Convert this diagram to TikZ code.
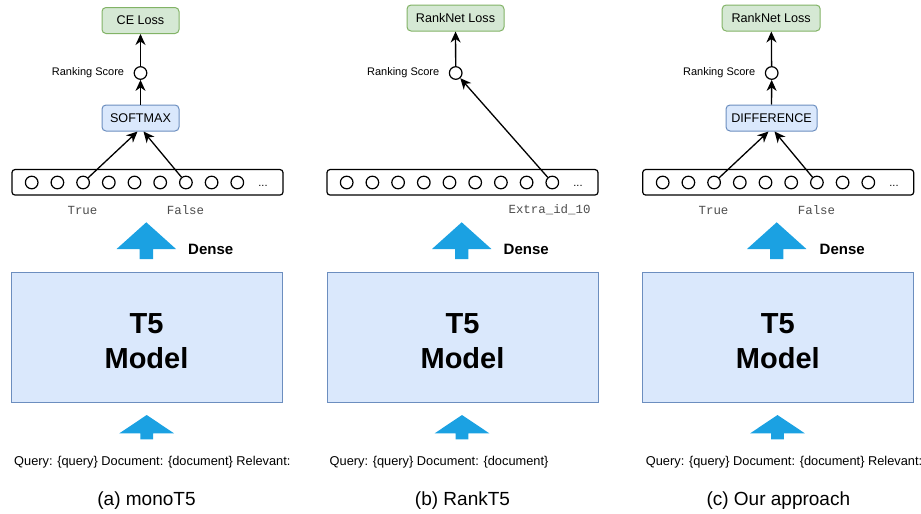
\documentclass[tikz,border=0pt]{standalone}
\usepackage{fontspec}
\setmainfont{Liberation Sans}
\setmonofont{Liberation Mono}
\usepackage{xcolor}
\usetikzlibrary{arrows.meta,positioning,calc}

\definecolor{boxblue}{HTML}{DAE8FC}
\definecolor{lineblue}{HTML}{6C8EBF}
\definecolor{boxgreen}{HTML}{D5E8D4}
\definecolor{linegreen}{HTML}{82B366}
\definecolor{arrowblue}{HTML}{1BA1E2}

\begin{document}
\begin{tikzpicture}[x=1pt,y=-1pt]
	\tikzstyle{every node} = [font=\fontsize{11}{13}\selectfont]
	\tikzstyle{model} = [draw=lineblue, fill=boxblue, line width=1pt, minimum width=271pt, minimum height=130pt]
	\tikzstyle{modeltext} = [align=center, inner sep=0pt, font=\fontsize{29}{35}\selectfont\bfseries]
	\tikzstyle{op} = [draw=lineblue, fill=boxblue, line width=1pt, rounded corners=4pt, minimum height=26pt, inner sep=0pt, font=\fontsize{12.6}{15}\selectfont]
	\tikzstyle{loss} = [draw=linegreen, fill=boxgreen, line width=1pt, rounded corners=4pt, minimum height=26pt, inner sep=0pt, font=\fontsize{12.6}{15}\selectfont]
	\tikzstyle{bar} = [draw=black, fill=white, line width=1.2pt, rounded corners=3pt, minimum width=271pt, minimum height=25.5pt, inner sep=0pt]
	\tikzstyle{tok} = [circle, draw=black, line width=1.2pt, minimum size=12.6pt, inner sep=0pt]
	\tikzstyle{score} = [circle, draw=black, fill=white, line width=1.2pt, minimum size=12.6pt, inner sep=0pt]
	\tikzstyle{word} = [font=\fontsize{12.4}{14}\ttfamily, text=black!70]
	\tikzstyle{dense} = [anchor=west, inner sep=0pt, font=\fontsize{15}{18}\selectfont\bfseries]
	\tikzstyle{link} = [line width=1.3pt, -{Stealth[length=11pt,width=10pt,inset=3.5pt]}]

	\useasboundingbox (0,0) rectangle (921,514);

	% (a) monoT5
	\node[model] (amodel) at (146.5,337) {};
	\node[modeltext] (at5) at (146.5,341) {T5\\Model};
	\node[bar] (abar) at (147.5,182.3) {};
	\node[tok] (a1) at (31.7,182.5) {};
	\node[tok] (a2) at (57.4,182.5) {};
	\node[tok] (a3) at (83.1,182.5) {};
	\node[tok] (a4) at (108.8,182.5) {};
	\node[tok] (a5) at (134.5,182.5) {};
	\node[tok] (a6) at (160.2,182.5) {};
	\node[tok] (a7) at (185.9,182.5) {};
	\node[tok] (a8) at (211.6,182.5) {};
	\node[tok] (a9) at (237.3,182.5) {};
	\node (adots) at (263,185.5) {...};
	\node[word] (atrue) at (82.5,210) {True};
	\node[word] (afalse) at (185.5,210) {False};
	\node[op, minimum width=77pt] (asm) at (140.5,118) {SOFTMAX};
	\node[score] (ascore) at (140.5,73) {};
	\node[left=6pt of ascore] (alabel) {Ranking Score};
	\node[loss, minimum width=77pt] (aloss) at (140.5,20.5) {CE Loss};
	\draw[link] (a3) -- ([xshift=-3pt]asm.south);
	\draw[link] (a7) -- ([xshift=3pt]asm.south);
	\draw[link] (asm) -- (ascore);
	\draw[link] (ascore) -- (aloss);
	\fill[arrowblue, shift={(146.3,0)}] (0,222.3) -- (29.7,249) -- (6.7,249) -- (6.7,259) -- (-6.7,259) -- (-6.7,249) -- (-29.7,249) -- cycle;
	\node[dense] (adense) at (188,249) {Dense};
	\fill[arrowblue, shift={(146.7,0)}] (0,415) -- (27.3,433.3) -- (6.3,433.3) -- (6.3,439.3) -- (-6.3,439.3) -- (-6.3,433.3) -- (-27.3,433.3) -- cycle;
	\node[anchor=west, inner sep=0pt, font=\fontsize{12.8}{15}\selectfont] (aquery) at (14,462) {Query: \{query\} Document: \{document\} Relevant:};
	\node[font=\fontsize{19}{22}\selectfont] (acap) at (146.5,501) {(a) monoT5};

	% (b) RankT5
	\node[model] (bmodel) at (462.5,337) {};
	\node[modeltext] (bt5) at (462.5,341) {T5\\Model};
	\node[bar] (bbar) at (462.5,182.3) {};
	\node[tok] (b1) at (346.7,182.5) {};
	\node[tok] (b2) at (372.4,182.5) {};
	\node[tok] (b3) at (398.1,182.5) {};
	\node[tok] (b4) at (423.8,182.5) {};
	\node[tok] (b5) at (449.5,182.5) {};
	\node[tok] (b6) at (475.2,182.5) {};
	\node[tok] (b7) at (500.9,182.5) {};
	\node[tok] (b8) at (526.6,182.5) {};
	\node[tok] (b9) at (552.3,182.5) {};
	\node (bdots) at (578,185.5) {...};
	\node[word, anchor=east] (bextra) at (594,210) {Extra\_id\_10};
	\node[score] (bscore) at (455.7,73) {};
	\node[left=6pt of bscore] (blabel) {Ranking Score};
	\node[loss, minimum width=97pt] (bloss) at (455.5,18) {RankNet Loss};
	\draw[link] (b9) -- (bscore);
	\draw[link] (bscore) -- (bloss);
	\fill[arrowblue, shift={(461.7,0)}] (0,222.3) -- (29.7,249) -- (6.7,249) -- (6.7,259) -- (-6.7,259) -- (-6.7,249) -- (-29.7,249) -- cycle;
	\node[dense] (bdense) at (503.5,249) {Dense};
	\fill[arrowblue, shift={(462,0)}] (0,415) -- (27.3,433.3) -- (6.3,433.3) -- (6.3,439.3) -- (-6.3,439.3) -- (-6.3,433.3) -- (-27.3,433.3) -- cycle;
	\node[anchor=west, inner sep=0pt, font=\fontsize{12.8}{15}\selectfont] (bquery) at (329.5,462) {Query: \{query\} Document: \{document\}};
	\node[font=\fontsize{19}{22}\selectfont] (bcap) at (462.5,501) {(b) RankT5};

	% (c) Our approach
	\node[model] (cmodel) at (777.8,337) {};
	\node[modeltext] (ct5) at (777.8,341) {T5\\Model};
	\node[bar] (cbar) at (778.2,182.3) {};
	\node[tok] (c1) at (662.7,182.5) {};
	\node[tok] (c2) at (688.4,182.5) {};
	\node[tok] (c3) at (714.1,182.5) {};
	\node[tok] (c4) at (739.8,182.5) {};
	\node[tok] (c5) at (765.5,182.5) {};
	\node[tok] (c6) at (791.2,182.5) {};
	\node[tok] (c7) at (816.9,182.5) {};
	\node[tok] (c8) at (842.6,182.5) {};
	\node[tok] (c9) at (868.3,182.5) {};
	\node (cdots) at (894,185.5) {...};
	\node[word] (ctrue) at (713.5,210) {True};
	\node[word] (cfalse) at (816.5,210) {False};
	\node[op, minimum width=91pt] (cdiff) at (771.5,118) {DIFFERENCE};
	\node[score] (cscore) at (771.7,73) {};
	\node[left=6pt of cscore] (clabel) {Ranking Score};
	\node[loss, minimum width=98pt] (closs) at (771.2,18) {RankNet Loss};
	\draw[link] (c3) -- ([xshift=-3pt]cdiff.south);
	\draw[link] (c7) -- ([xshift=3pt]cdiff.south);
	\draw[link] (cdiff) -- (cscore);
	\draw[link] (cscore) -- (closs);
	\fill[arrowblue, shift={(776.7,0)}] (0,222.3) -- (29.7,249) -- (6.7,249) -- (6.7,259) -- (-6.7,259) -- (-6.7,249) -- (-29.7,249) -- cycle;
	\node[dense] (cdense) at (819.5,249) {Dense};
	\fill[arrowblue, shift={(777.5,0)}] (0,415) -- (27.3,433.3) -- (6.3,433.3) -- (6.3,439.3) -- (-6.3,439.3) -- (-6.3,433.3) -- (-27.3,433.3) -- cycle;
	\node[anchor=west, inner sep=0pt, font=\fontsize{12.8}{15}\selectfont] (cquery) at (645.7,462) {Query: \{query\} Document: \{document\} Relevant:};
	\node[font=\fontsize{19}{22}\selectfont] (ccap) at (778.3,501) {(c) Our approach};
\end{tikzpicture}
\end{document}
